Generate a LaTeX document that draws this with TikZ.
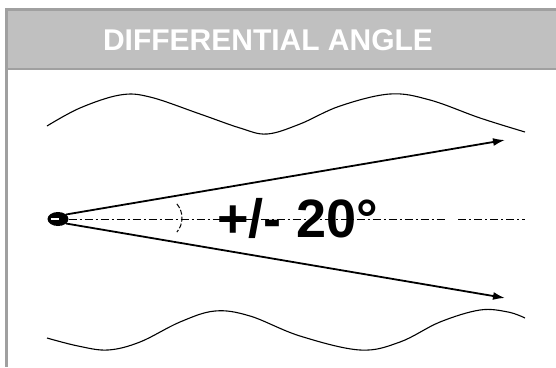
\documentclass[tikz,border=0pt]{standalone}
\usepackage{fontspec}
\setmainfont{Liberation Sans}
\usetikzlibrary{arrows.meta,shapes.geometric}
\definecolor{hdrfill}{HTML}{C0C0C0}
\definecolor{hdrline}{HTML}{A0A0A0}
\tikzset{
  wave/.style={line width=1.1pt, black},
  ray/.style={line width=1.8pt, black, -{Latex[length=12pt,width=8pt]}},
  axisline/.style={line width=1pt, black, dash pattern=on 8pt off 3pt on 2pt off 3pt},
  titletext/.style={text=white, font=\fontsize{30}{30}\selectfont\bfseries},
  angletext/.style={text=black, font=\fontsize{54}{54}\selectfont\bfseries},
}
\begin{document}
\begin{tikzpicture}[x=1pt,y=-1pt]
\useasboundingbox (0,0) rectangle (556,367);
\fill[white] (0,0) rectangle (556,367);
% header frame
\fill[hdrfill] (5,8) rectangle (556,70);
\fill[hdrline] (5,8) rectangle (556,10.5);
\fill[hdrline] (5,67.5) rectangle (556,70);
\fill[hdrline] (5,8) rectangle (7.5,367);
\node[titletext] (title) at (268,40) {DIFFERENTIAL ANGLE};
% waves
\draw[wave] plot[smooth,tension=0.6] coordinates {(47,126) (80,108) (120,95) (150,97) (200,114) (240,128) (267,134) (300,124) (340,106) (390,94) (430,100) (480,118) (525,132)};
\draw[wave] plot[smooth,tension=0.6] coordinates {(47,338) (78,346) (108,350) (140,342) (180,322) (215,311) (250,316) (300,336) (360,350) (400,342) (440,322) (480,310) (508,312) (525,318)};
% pivot
\node[ellipse, fill=black, minimum width=21pt, minimum height=14pt, inner sep=0pt] (eye) at (58,219) {};
\fill[white] (51,218.2) rectangle (59,219.8);
\coordinate (axisA) at (447,219);
\coordinate (axisB) at (458,219);
\coordinate (axisEnd) at (525,219);
\draw[axisline] (eye.east) -- (axisA);
\draw[axisline] (axisB) -- (axisEnd);
% rays
\coordinate (up) at (505,140);
\coordinate (down) at (505,298);
\coordinate (upStart) at (66,214.5);
\coordinate (downStart) at (66,223.5);
\draw[ray] (upStart) -- (up);
\draw[ray] (downStart) -- (down);
% angle arc
\coordinate (arcC) at (160,218);
\draw[line width=1pt, dash pattern=on 5pt off 2pt] ([shift={(-40:22)}]arcC) arc[start angle=-40, end angle=40, radius=22];
\node[angletext] (label) at (298,218) {+/- 20°};
\end{tikzpicture}
\end{document}
